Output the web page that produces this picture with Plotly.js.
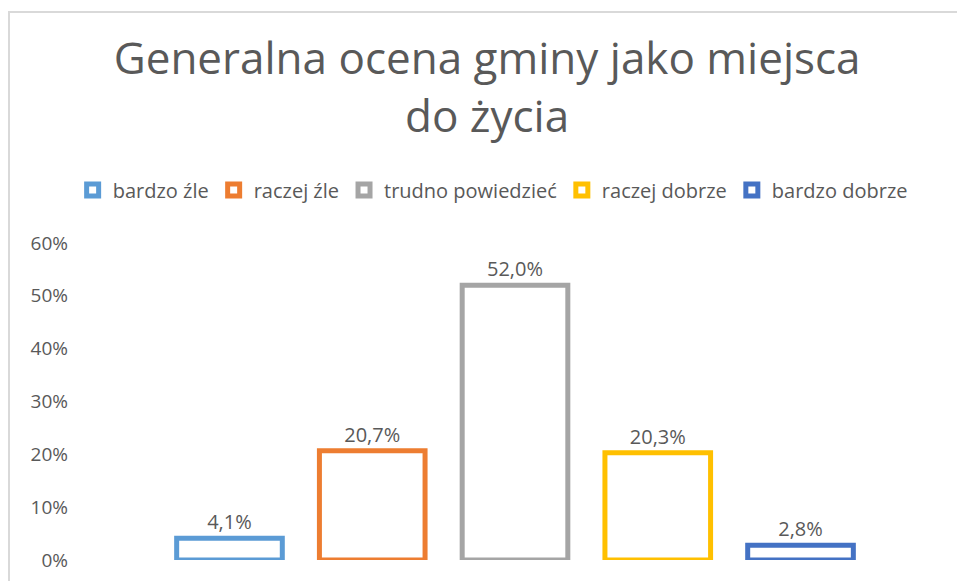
<!DOCTYPE html>
<html>
<head>
<meta charset="utf-8">
<script src="https://cdn.plot.ly/plotly-3.0.1.min.js"></script>
<style>
  html, body { margin: 0; padding: 0; background: #ffffff; }
  #wrap { position: relative; width: 957px; height: 581px; overflow: hidden; }
  #frame { position: absolute; left: 8px; top: 11px; width: 1000px; height: 700px;
           border-left: 2px solid #d9d9d9; border-top: 2px solid #d9d9d9; }
  #chart { position: absolute; left: 0; top: 0; width: 957px; height: 581px; }
</style>
</head>
<body>
<div id="wrap">
  <div id="frame"></div>
  <div id="chart"></div>
</div>
<script>
const seriesNames = ["bardzo źle", "raczej źle", "trudno powiedzieć", "raczej dobrze", "bardzo dobrze"];
const seriesValues = [0.041, 0.207, 0.520, 0.203, 0.028];
const seriesColors = ["#5b9bd5", "#ed7d31", "#a5a5a5", "#ffc000", "#4472c4"];
const category = ["Generalna ocena"];
const yTickVals = [0, 0.1, 0.2, 0.3, 0.4, 0.5, 0.6];

const textColor = "#595959";
const fontFam = "'Open Sans', sans-serif";

const traces = seriesNames.map((name, i) => ({
  type: "bar",
  name: name,
  x: category,
  y: [seriesValues[i]],
  marker: { color: "#ffffff", line: { color: seriesColors[i], width: 5 } },
  texttemplate: "%{y:.1%}",
  textposition: "outside",
  constraintext: "none",
  textfont: { family: fontFam, size: 20, color: textColor },
  cliponaxis: false,
  hoverinfo: "skip"
}));

const layout = {
  width: 957,
  height: 581,
  paper_bgcolor: "rgba(0,0,0,0)",
  plot_bgcolor: "rgba(0,0,0,0)",
  separators: ", ",
  barmode: "group",
  bargap: 0.17,
  bargroupgap: 0.26,
  margin: { l: 85, r: 12, t: 243, b: 21, autoexpand: false },
  title: {
    text: "Generalna ocena gminy jako miejsca<br>do życia",
    font: { family: fontFam, size: 44, color: textColor },
    x: 0.509, xref: "container", xanchor: "center",
    y: 0.872, yref: "container", yanchor: "top"
  },
  showlegend: true,
  legend: {
    orientation: "h",
    x: 0.474, xanchor: "center",
    y: 1.167, yanchor: "middle",
    font: { family: fontFam, size: 20, color: textColor },
    traceorder: "normal",
    itemclick: false
  },
  xaxis: {
    type: "category",
    range: [-0.5, 0.5],
    showticklabels: false,
    showgrid: false,
    zeroline: false,
    showline: false,
    fixedrange: true
  },
  yaxis: {
    range: [0, 0.6],
    tickvals: yTickVals,
    tickformat: ".0%",
    showgrid: false,
    zeroline: false,
    showline: false,
    ticks: "",
    ticklabelstandoff: 16,
    tickfont: { family: fontFam, size: 19, color: textColor },
    fixedrange: true
  }
};

Plotly.newPlot("chart", traces, layout, { displayModeBar: false, staticPlot: true });
</script>
</body>
</html>
